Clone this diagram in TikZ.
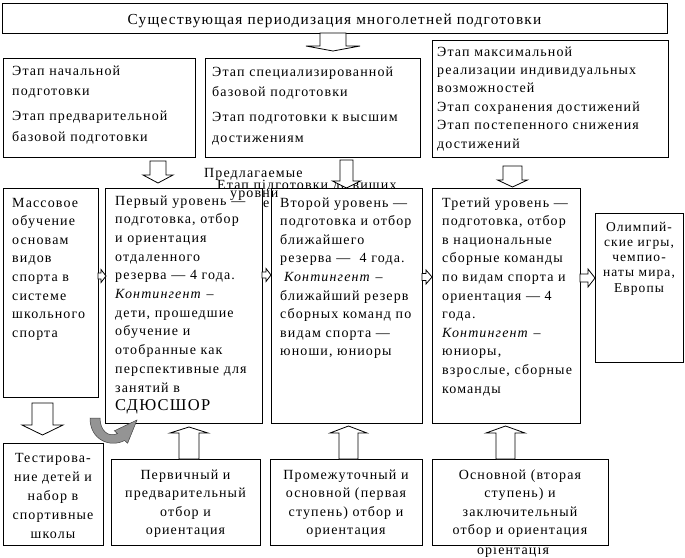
\documentclass[tikz,border=0pt]{standalone}
\usepackage{fontspec}
\setmainfont{Liberation Serif}[LetterSpace=8]
\usetikzlibrary{calc}
\tikzset{
  box/.style={draw, line width=0.9pt, fill=white, anchor=north west, inner sep=0pt, outer sep=0pt},
  blk/.style={draw, line width=0.8pt, fill=white, line join=miter},
  txt/.style={anchor=base west, inner sep=0pt, align=left, font=\fontsize{14}{18.6}\selectfont},
  ctxt/.style={anchor=base, inner sep=0pt, align=center, font=\fontsize{14}{18.6}\selectfont},
  curv/.style={draw=black!75, line width=0.5pt, fill=black!42},
}
\newcommand\blkdown[5]{\draw[blk] let \p1=#1, \p2=#2 in
  (\x1-#3pt,\y1) -- (\x1-#3pt,\y2+#5pt) -- (\x1-#4pt,\y2+#5pt) -- (\x1,\y2) --
  (\x1+#4pt,\y2+#5pt) -- (\x1+#3pt,\y2+#5pt) -- (\x1+#3pt,\y1) -- cycle;}
\newcommand\blkup[5]{\draw[blk] let \p1=#1, \p2=#2 in
  (\x1-#3pt,\y1) -- (\x1-#3pt,\y2-#5pt) -- (\x1-#4pt,\y2-#5pt) -- (\x1,\y2) --
  (\x1+#4pt,\y2-#5pt) -- (\x1+#3pt,\y2-#5pt) -- (\x1+#3pt,\y1) -- cycle;}
\newcommand\blkright[5]{\draw[blk] let \p1=#1, \p2=#2 in
  (\x1,\y1-#3pt) -- (\x2-#5pt,\y1-#3pt) -- (\x2-#5pt,\y1-#4pt) -- (\x2,\y1) --
  (\x2-#5pt,\y1+#4pt) -- (\x2-#5pt,\y1+#3pt) -- (\x1,\y1+#3pt) -- cycle;}
\begin{document}
\begin{tikzpicture}[x=1pt,y=-1pt]
\useasboundingbox[fill=white] (0,0) rectangle (685,557);

% stray overlapping texts (behind the boxes)
\node[txt] (pr) at (204,177) {Предлагаемые};
\node[txt] (et) at (217,189) {Етап підготовки до вищих};
\node[ctxt, text width=150pt] (orx) at (513,554) {оріентація};

% boxes
\node[box, minimum width=665pt, minimum height=30pt] (top) at (2,3) {};
\node[box, minimum width=192pt, minimum height=99pt] (A) at (3,58) {};
\node[box, minimum width=215pt, minimum height=99pt] (B) at (205,58) {};
\node[box, minimum width=236pt, minimum height=117pt] (C) at (432,40) {};
\node[box, minimum width=95pt, minimum height=209pt] (M) at (3,188) {};
\node[box, minimum width=157pt, minimum height=235pt] (L1) at (105,188) {};
\node[box, minimum width=151pt, minimum height=235pt] (L2) at (271,188) {};
\node[box, minimum width=148pt, minimum height=235pt] (L3) at (432,188) {};
\node[box, minimum width=88pt, minimum height=149pt] (O) at (595,213) {};
\node[box, minimum width=100pt, minimum height=102pt] (T) at (3,443) {};
\node[box, minimum width=149pt, minimum height=86pt] (P1) at (111,459) {};
\node[box, minimum width=152pt, minimum height=86pt] (P2) at (270,459) {};
\node[box, minimum width=176pt, minimum height=86pt] (P3) at (432,459) {};

% texts
\node[ctxt, text width=640pt, font=\fontsize{15.3}{18}\selectfont] (tt) at ($(top.north)+(0,21)$)
  {Существующая периодизация многолетней подготовки};
\node[txt, text width=185pt, font=\fontsize{14}{20.5}\selectfont] (At) at ($(A.north west)+(9,17)$)
  {Этап начальной\\подготовки\\[4.5pt]Этап предварительной\\базовой подготовки};
\node[txt, text width=210pt, font=\fontsize{14}{20.5}\selectfont] (Bt) at ($(B.north west)+(7,18)$)
  {Этап специализированной\\базовой подготовки\\[4.5pt]Этап подготовки к высшим\\достижениям};
\node[txt, text width=232pt, font=\fontsize{14}{18.4}\selectfont] (Ct) at ($(C.north west)+(5,16)$)
  {Этап максимальной\\реализации индивидуальных\\возможностей\\Этап сохранения достижений\\Этап постепенного снижения\\достижений};
\node[txt, text width=92pt] (Mt) at ($(M.north west)+(9,19)$)
  {Массовое\\обучение\\основам\\видов\\спорта в\\системе\\школьного\\спорта};
\node[txt, text width=150pt, font=\fontsize{14}{18.7}\selectfont] (L1t) at ($(L1.north west)+(10,17)$)
  {Первый уровень —\\подготовка, отбор\\и ориентация\\отдаленного\\резерва — 4 года.\\\textit{Контингент} –\\дети, прошедшие\\обучение и\\отобранные как\\перспективные для\\занятий в\\{\fontsize{16.5}{18.7}\selectfont СДЮСШОР}};
\node[txt, text width=148pt] (L2t) at ($(L2.north west)+(9,19)$)
  {Второй уровень —\\подготовка и отбор\\ближайшего\\резерва —\ \ 4 года.\\\hspace{4pt}\textit{Контингент} –\\ближайший резерв\\сборных команд по\\видам спорта —\\юноши, юниоры};
\node[txt, text width=146pt] (L3t) at ($(L3.north west)+(10,19)$)
  {Третий уровень —\\подготовка, отбор\\в национальные\\сборные команды\\по видам спорта и\\ориентация — 4\\года.\\\textit{Контингент} –\\юниоры,\\взрослые, сборные\\команды};
\node[ctxt, text width=86pt, font=\fontsize{13.5}{15.3}\selectfont] (Ot) at ($(O.north)+(0,18)$)
  {Олимпий-\\ские игры,\\чемпио-\\наты мира,\\Европы};
\node[ctxt, text width=98pt, font=\fontsize{14}{19}\selectfont] (Tt) at ($(T.north)+(0,19)$)
  {Тестирова-\\ние детей и\\набор в\\спортивные\\школы};
\node[ctxt, text width=147pt, font=\fontsize{14}{18.5}\selectfont] (P1t) at ($(P1.north)+(0,20)$)
  {Первичный и\\предварительный\\отбор и\\ориентация};
\node[ctxt, text width=150pt, font=\fontsize{14}{18.5}\selectfont] (P2t) at ($(P2.north)+(0,20)$)
  {Промежуточный и\\основной (первая\\ступень) отбор и\\ориентация};
\node[ctxt, text width=174pt, font=\fontsize{14}{18.5}\selectfont] (P3t) at ($(P3.north)+(0,20)$)
  {Основной (вторая\\ступень) и\\заключительный\\отбор и ориентация};

% block arrows
\blkdown{($(top.south)+(-1.5,0)$)}{($(top.south)+(-1.5,18)$)}{13}{27}{5}
\blkdown{($(A.south east)+(-37,4)$)}{($(L1.north west)+(53,-5)$)}{8}{15}{8}
\blkdown{($(B.south west)+(141.5,3)$)}{($(L2.north west)+(75.5,0)$)}{6.5}{14}{7}
\blkdown{($(C.south west)+(80.5,9)$)}{($(L3.north west)+(80.5,-1)$)}{9.5}{15}{7}
\blkdown{($(M.south west)+(39.5,6)$)}{($(T.north west)+(39.5,-8)$)}{10.5}{20.5}{10}
\blkup{($(P1.north west)+(78,0)$)}{($(L1.south west)+(84,4)$)}{10}{19}{6}
\blkup{($(P2.north west)+(78.5,0)$)}{($(L2.south west)+(77.5,3)$)}{9.5}{18.5}{7}
\blkup{($(P3.north west)+(73.5,0)$)}{($(L3.south west)+(73.5,3)$)}{9.5}{19.5}{7}
\blkright{($(M.north east)+(0,88)$)}{($(L1.north west)+(1,88)$)}{3}{6.5}{5}
\blkright{($(L1.north east)+(0,87)$)}{($(L2.north west)+(0,87)$)}{3}{6.5}{5}
\blkright{($(L2.north east)+(0,89)$)}{($(L3.north west)+(0,89)$)}{3.5}{7}{6}
\blkright{($(L3.north east)+(0,90)$)}{($(O.north west)+(0,65)$)}{4}{9}{7}

% curved grey arrow from the mass-training box towards level one
\path[curv] (90,418) .. controls (90,440) and (110,448) .. (124.6,440.5)
  -- (127.6,443.2) -- (137,420) -- (114.4,430.8) -- (117.4,433.6)
  .. controls (108,438) and (100,430) .. (100,418) -- cycle;

% stray texts on top
\node[txt] (ur) at (230,197) {уровни};
\node[txt] (ee) at (263,207) {е};
\end{tikzpicture}
\end{document}
